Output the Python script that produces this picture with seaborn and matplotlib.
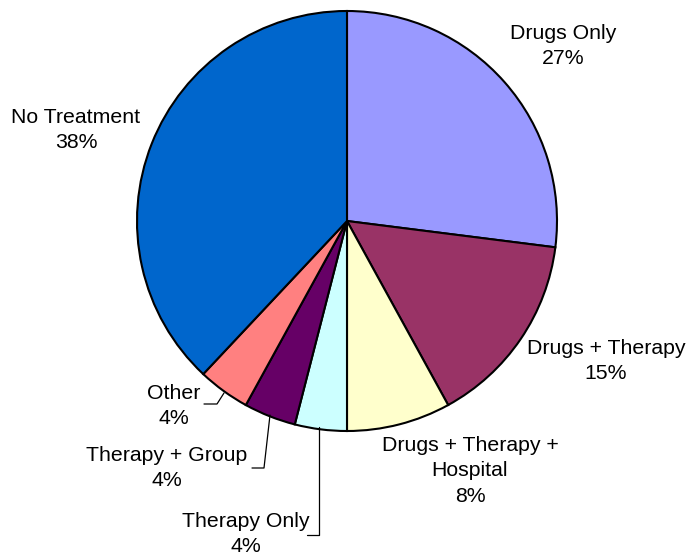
import matplotlib
matplotlib.use('Agg')
import matplotlib.pyplot as plt
import seaborn as sns

labels = ['Drugs Only', 'Drugs + Therapy', 'Drugs + Therapy +\nHospital',
          'Therapy Only', 'Therapy + Group', 'Other', 'No Treatment']
shares = [27, 15, 8, 4, 4, 4, 38]
colors = ['#9999FF', '#993366', '#FFFFCC', '#CCFFFF', '#660066', '#FF8080', '#0066CC']

sns.set_style('white')
plt.rcParams['font.family'] = ['Liberation Sans', 'DejaVu Sans']

W, H = 687, 555
cx, cy, R = 347, 221, 210


def px(x, y):
    # pixel position of the reference -> data units of the pie
    return (x - cx) / R, (cy - y) / R


fig = plt.figure(figsize=(W / 100, H / 100), dpi=100)
ax = fig.add_axes([0, 0, 1, 1])
ax.pie(shares, colors=colors, startangle=90, counterclock=False,
       radius=1, wedgeprops=dict(edgecolor='black', linewidth=1.5))
ax.set_xlim(-cx / R, (W - cx) / R)
ax.set_ylim(-(H - cy) / R, cy / R)
ax.set_aspect('equal')
ax.axis('off')

# label positions (pixel centres in the reference)
label_pos = [(563, 46), (606, 361), (470, 471), (246, 534),
             (167, 468), (174, 406), (76, 130)]
for lab, val, (x, y) in zip(labels, shares, label_pos):
    tx, ty = px(x, y)
    ax.text(tx, ty, f'{lab}\n{val}%', ha='center', va='center',
            fontsize=15.3, linespacing=1.45, color='black')

# leader lines for the small slices
leaders = [
    [(204, 404), (217, 404), (224, 393)],
    [(252, 468), (264, 468), (270, 415)],
    [(307, 535), (319, 535), (319, 427)],
]
for pts in leaders:
    xs, ys = zip(*[px(x, y) for x, y in pts])
    ax.plot(xs, ys, color='black', linewidth=0.9)

fig.savefig('out.png', dpi=100)
